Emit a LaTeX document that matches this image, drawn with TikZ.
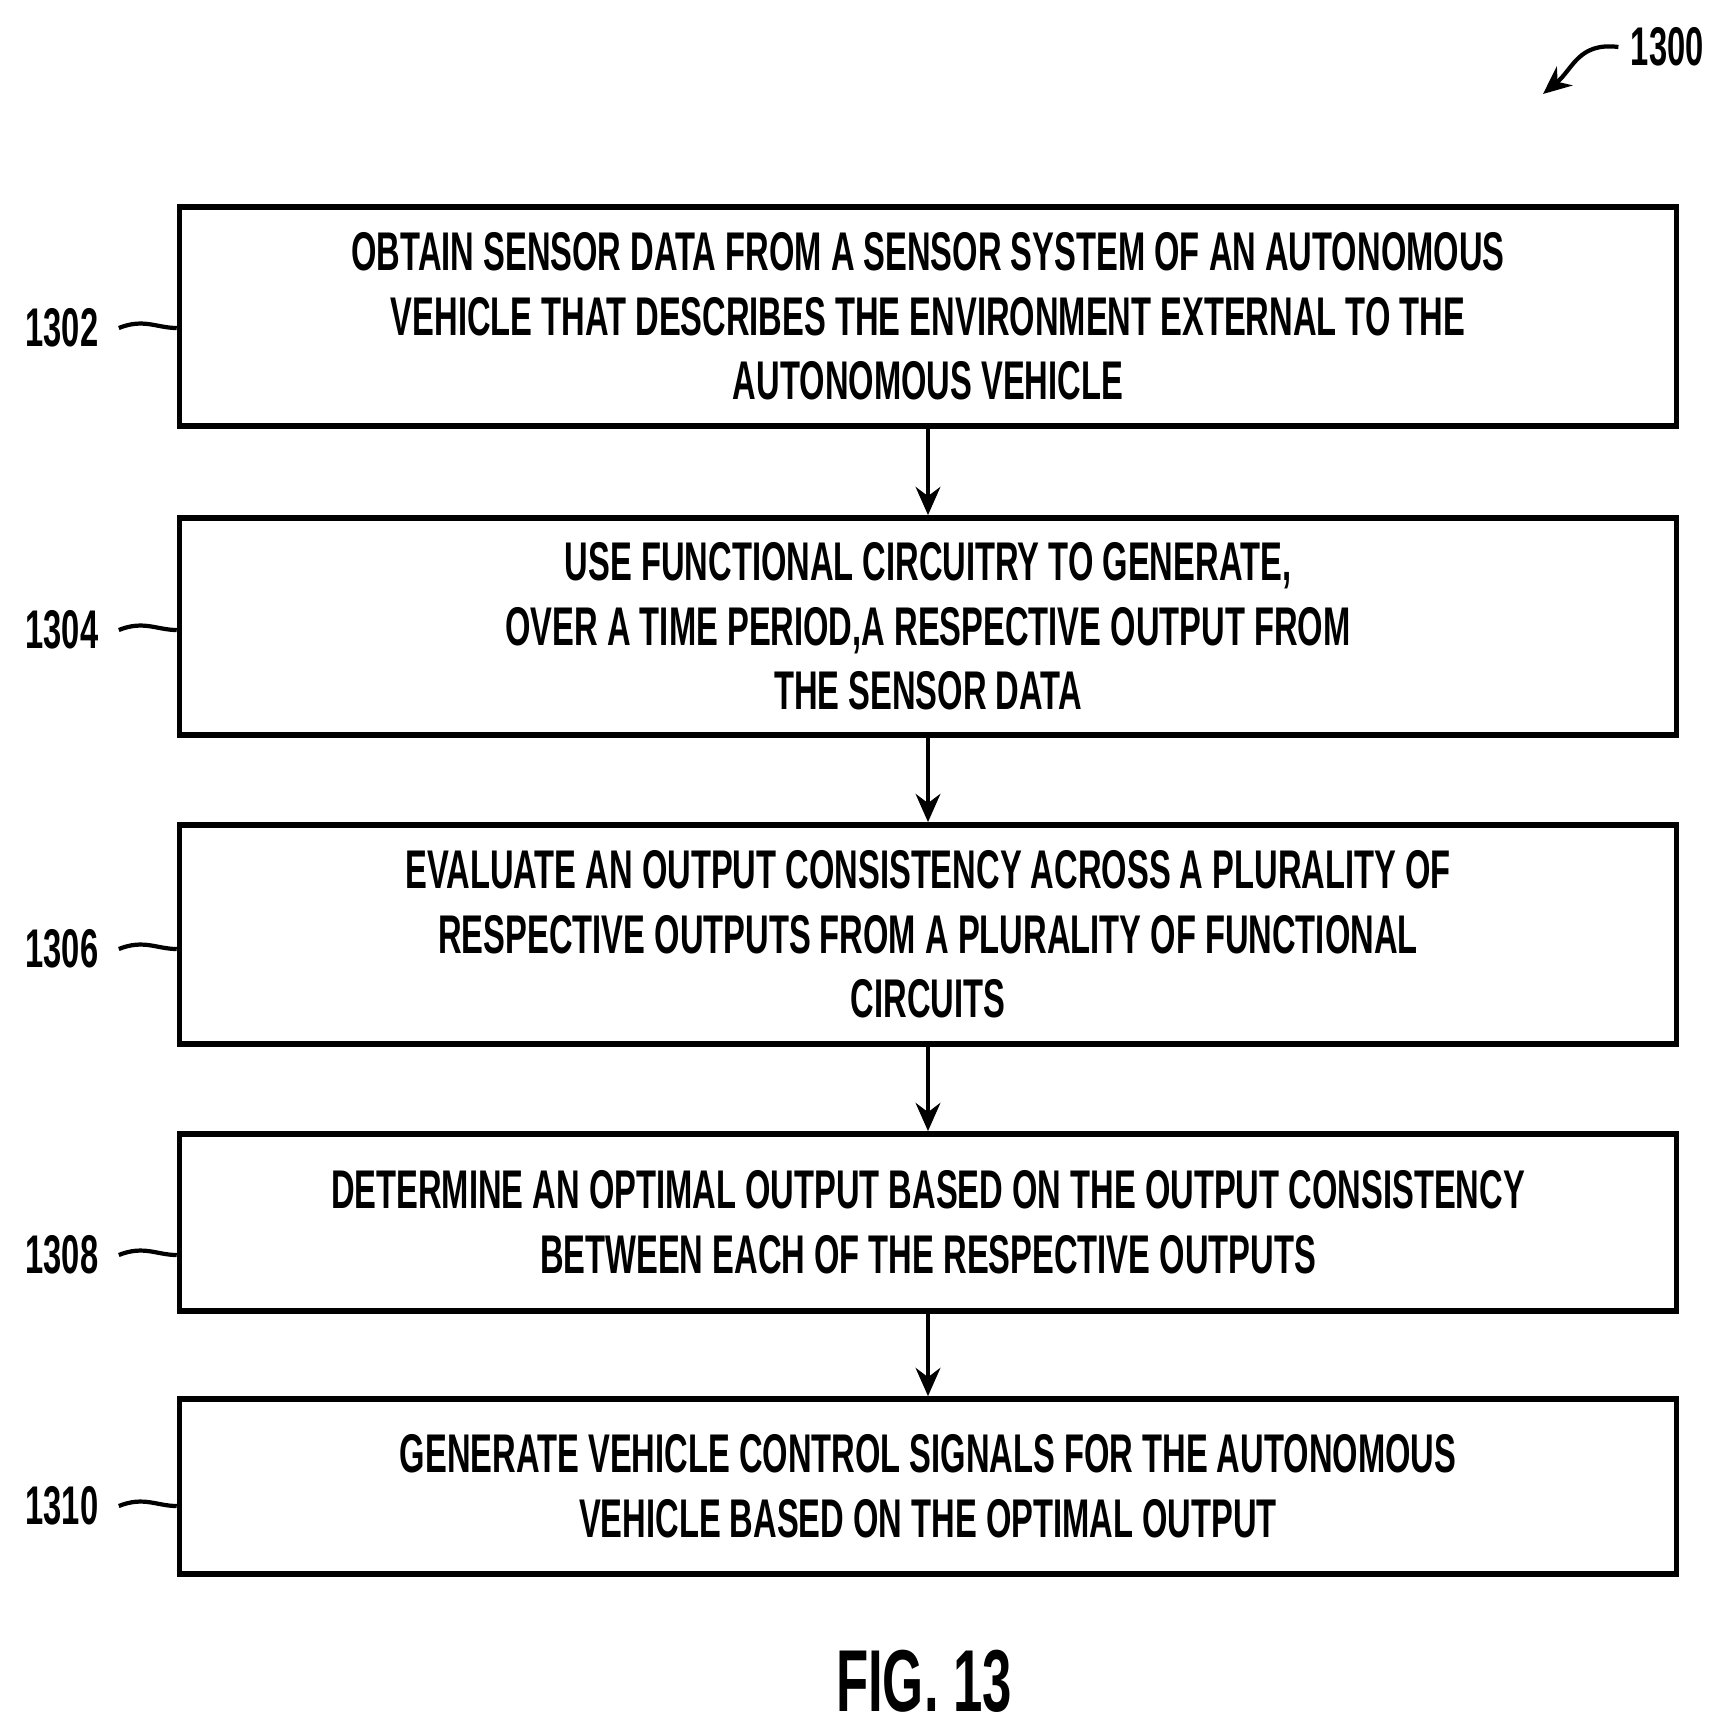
\documentclass[tikz,border=0pt]{standalone}
\usetikzlibrary{arrows.meta}
\usepackage{fontspec}
\setmainfont{Liberation Sans}[FakeStretch=0.60]
\begin{document}
\begin{tikzpicture}[x=0.01cm,y=-0.01cm,
  box/.style={draw,line width=1.6pt,minimum width=14.96cm,align=center,font=\bfseries\fontsize{15.5}{18.4}\selectfont,inner sep=0pt},
  lab/.style={font=\bfseries\fontsize{15.5}{18}\selectfont},
  arr/.style={-{Stealth[length=8pt,width=7pt]},line width=1.2pt}]
\useasboundingbox (0,0) rectangle (1732,1733);
\node[box,minimum height=2.19cm] (b1) at (928,316.5) {OBTAIN SENSOR DATA FROM A SENSOR SYSTEM OF AN AUTONOMOUS\\VEHICLE THAT DESCRIBES THE ENVIRONMENT EXTERNAL TO THE\\AUTONOMOUS VEHICLE};
\node[box,minimum height=2.17cm] (b2) at (928,626.5) {USE FUNCTIONAL CIRCUITRY TO GENERATE,\\OVER A TIME PERIOD,A RESPECTIVE OUTPUT FROM\\THE SENSOR DATA};
\node[box,minimum height=2.19cm] (b3) at (928,934.5) {EVALUATE AN OUTPUT CONSISTENCY ACROSS A PLURALITY OF\\RESPECTIVE OUTPUTS FROM A PLURALITY OF FUNCTIONAL\\CIRCUITS};
\node[box,minimum height=1.77cm] (b4) at (928,1222.5) {DETERMINE AN OPTIMAL OUTPUT BASED ON THE OUTPUT CONSISTENCY\\BETWEEN EACH OF THE RESPECTIVE OUTPUTS};
\node[box,minimum height=1.75cm] (b5) at (928,1486.5) {GENERATE VEHICLE CONTROL SIGNALS FOR THE AUTONOMOUS\\VEHICLE BASED ON THE OPTIMAL OUTPUT};
\foreach \a/\b in {b1/b2,b2/b3,b3/b4,b4/b5} \draw[arr] (\a) -- (\b);
\foreach \n/\y/\t in {l1/328/1302,l2/630/1304,l3/949/1306,l4/1255/1308,l5/1506/1310}{
  \node[lab] (\n) at (62,\y) {\t};
}
\foreach \n/\b in {l1/b1,l2/b2,l3/b3,l4/b4,l5/b5}
  \draw[line width=1.2pt] (\n.east) ++(8,0) .. controls +(25,-10) and +(-20,0) .. (\b.west |- \n.east);
\node[lab,anchor=east] (t) at (1716,47) {1300};
\coordinate (tp) at (1543,94);
\draw[arr] (t.west) .. controls +(-40,-5) and +(30,-25) .. (tp);
\node[font=\bfseries\fontsize{25}{28}\selectfont] (fig) at (924,1681) {FIG. 13};
\end{tikzpicture}
\end{document}
